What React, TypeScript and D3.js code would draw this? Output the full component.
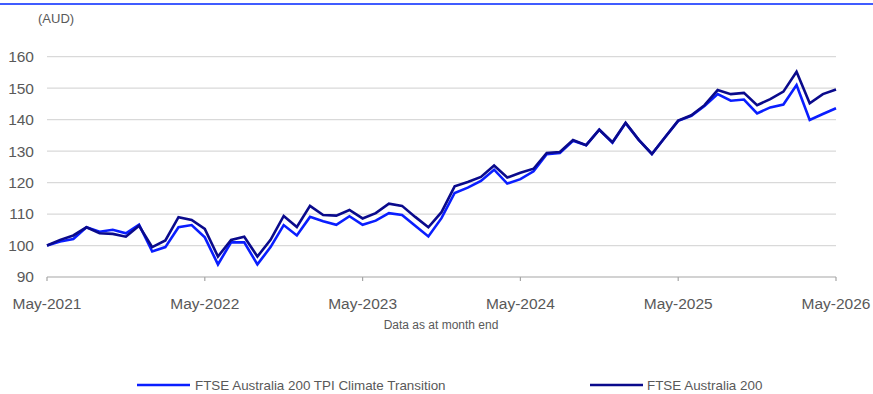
import React from "react";
import * as d3 from "d3";

const months: string[] = (() => {
  const names = ["Jan","Feb","Mar","Apr","May","Jun","Jul","Aug","Sep","Oct","Nov","Dec"];
  const out: string[] = [];
  for (let i = 0; i < 61; i++) {
    const m = (4 + i) % 12;
    const y = 2021 + Math.floor((4 + i) / 12);
    out.push(`${names[m]}-${y}`);
  }
  return out;
})();

const ftse200: number[] = [
  100, 101.8, 103.2, 105.8, 103.9, 103.7, 102.8, 106.3,
  99.5, 101.6, 109.0, 108.1, 105.3, 96.5, 101.8, 102.8, 96.5, 101.8, 109.4, 105.9,
  112.6, 109.7, 109.5, 111.3, 108.6, 110.3, 113.3, 112.6, 109.1, 105.8, 110.6, 118.8,
  120.2, 121.8, 125.4, 121.6, 123.1, 124.4, 129.4, 129.7, 133.5, 131.9, 136.8, 132.8,
  139.0, 133.6, 129.1, 134.4, 139.7, 141.4, 144.6, 149.4, 148.1, 148.5, 144.6, 146.5,
  148.9, 155.2, 145.2, 148.1, 149.6,
];

const tpiClimate: number[] = [
  100, 101.3, 102.1, 105.8, 104.4, 105.0, 103.9, 106.6,
  98.1, 99.5, 105.8, 106.5, 102.6, 94.0, 101.0, 101.0, 94.0, 99.5, 106.5, 103.2,
  109.1, 107.7, 106.6, 109.3, 106.6, 107.9, 110.3, 109.7, 106.3, 102.9, 108.7, 116.7,
  118.4, 120.5, 124.1, 119.7, 121.1, 123.6, 129.0, 129.4, 133.3, 131.9, 136.8, 132.7,
  138.9, 133.6, 129.1, 134.4, 139.6, 141.2, 144.3, 148.1, 146.0, 146.4, 142.0, 143.9,
  144.8, 151.0, 139.9, 141.8, 143.6,
];

const yTicks: number[] = [90, 100, 110, 120, 130, 140, 150, 160];
const xTickLabels: string[] = ["May-2021", "May-2022", "May-2023", "May-2024", "May-2025", "May-2026"];

const seriesNames = ["FTSE Australia 200 TPI Climate Transition", "FTSE Australia 200"];
const seriesColors = ["#0a1eff", "#0a0a8c"];

export default function App() {
  const W = 873, H = 394;
  const x = d3.scaleLinear().domain([0, 60]).range([47, 836]);
  const y = d3.scaleLinear().domain([90, 160]).range([277, 56.7]);
  const line = d3.line<number>().x((_, i) => x(i)).y((v) => y(v));
  const font = "Liberation Sans, Arial, sans-serif";
  const txt = "#595959";

  return (
    <svg width={W} height={H} style={{ position: "absolute", left: 0, top: 0, background: "#fff" }} fontFamily={font}>
      <line x1={0} x2={W} y1={4} y2={4} stroke="#0026ff" strokeWidth={1.5} />
      <text x={38} y={23} fontSize={13} fill={txt}>(AUD)</text>
      {yTicks.map((t) => (
        <g key={t}>
          {t > 90 && <line x1={x(0)} x2={x(60)} y1={y(t)} y2={y(t)} stroke="#d9d9d9" strokeWidth={1.2} />}
          <text x={34} y={y(t)} dy="0.35em" textAnchor="end" fontSize={15.5} fill={txt}>{t}</text>
        </g>
      ))}
      <line x1={x(0)} x2={x(60)} y1={y(90)} y2={y(90)} stroke="#a6a6a6" strokeWidth={1.2} />
      {xTickLabels.map((lab, k) => (
        <g key={lab}>
          <line x1={x(k * 12)} x2={x(k * 12)} y1={y(90)} y2={y(90) + 4} stroke="#a6a6a6" strokeWidth={1.2} />
          <text x={x(k * 12)} y={309} textAnchor="middle" fontSize={15.5} fill={txt}>{lab}</text>
        </g>
      ))}
      <text x={441} y={329} textAnchor="middle" fontSize={12} fill={txt}>Data as at month end</text>
      <path d={line(tpiClimate) || ""} fill="none" stroke={seriesColors[0]} strokeWidth={2.6} strokeLinejoin="miter" />
      <path d={line(ftse200) || ""} fill="none" stroke={seriesColors[1]} strokeWidth={2.6} strokeLinejoin="miter" />
      <line x1={137} x2={190} y1={385} y2={385} stroke={seriesColors[0]} strokeWidth={2.6} />
      <text x={195} y={389.5} fontSize={13.4} fill={txt}>{seriesNames[0]}</text>
      <line x1={590} x2={643} y1={385} y2={385} stroke={seriesColors[1]} strokeWidth={2.6} />
      <text x={647} y={389.5} fontSize={13.4} fill={txt}>{seriesNames[1]}</text>
    </svg>
  );
}
